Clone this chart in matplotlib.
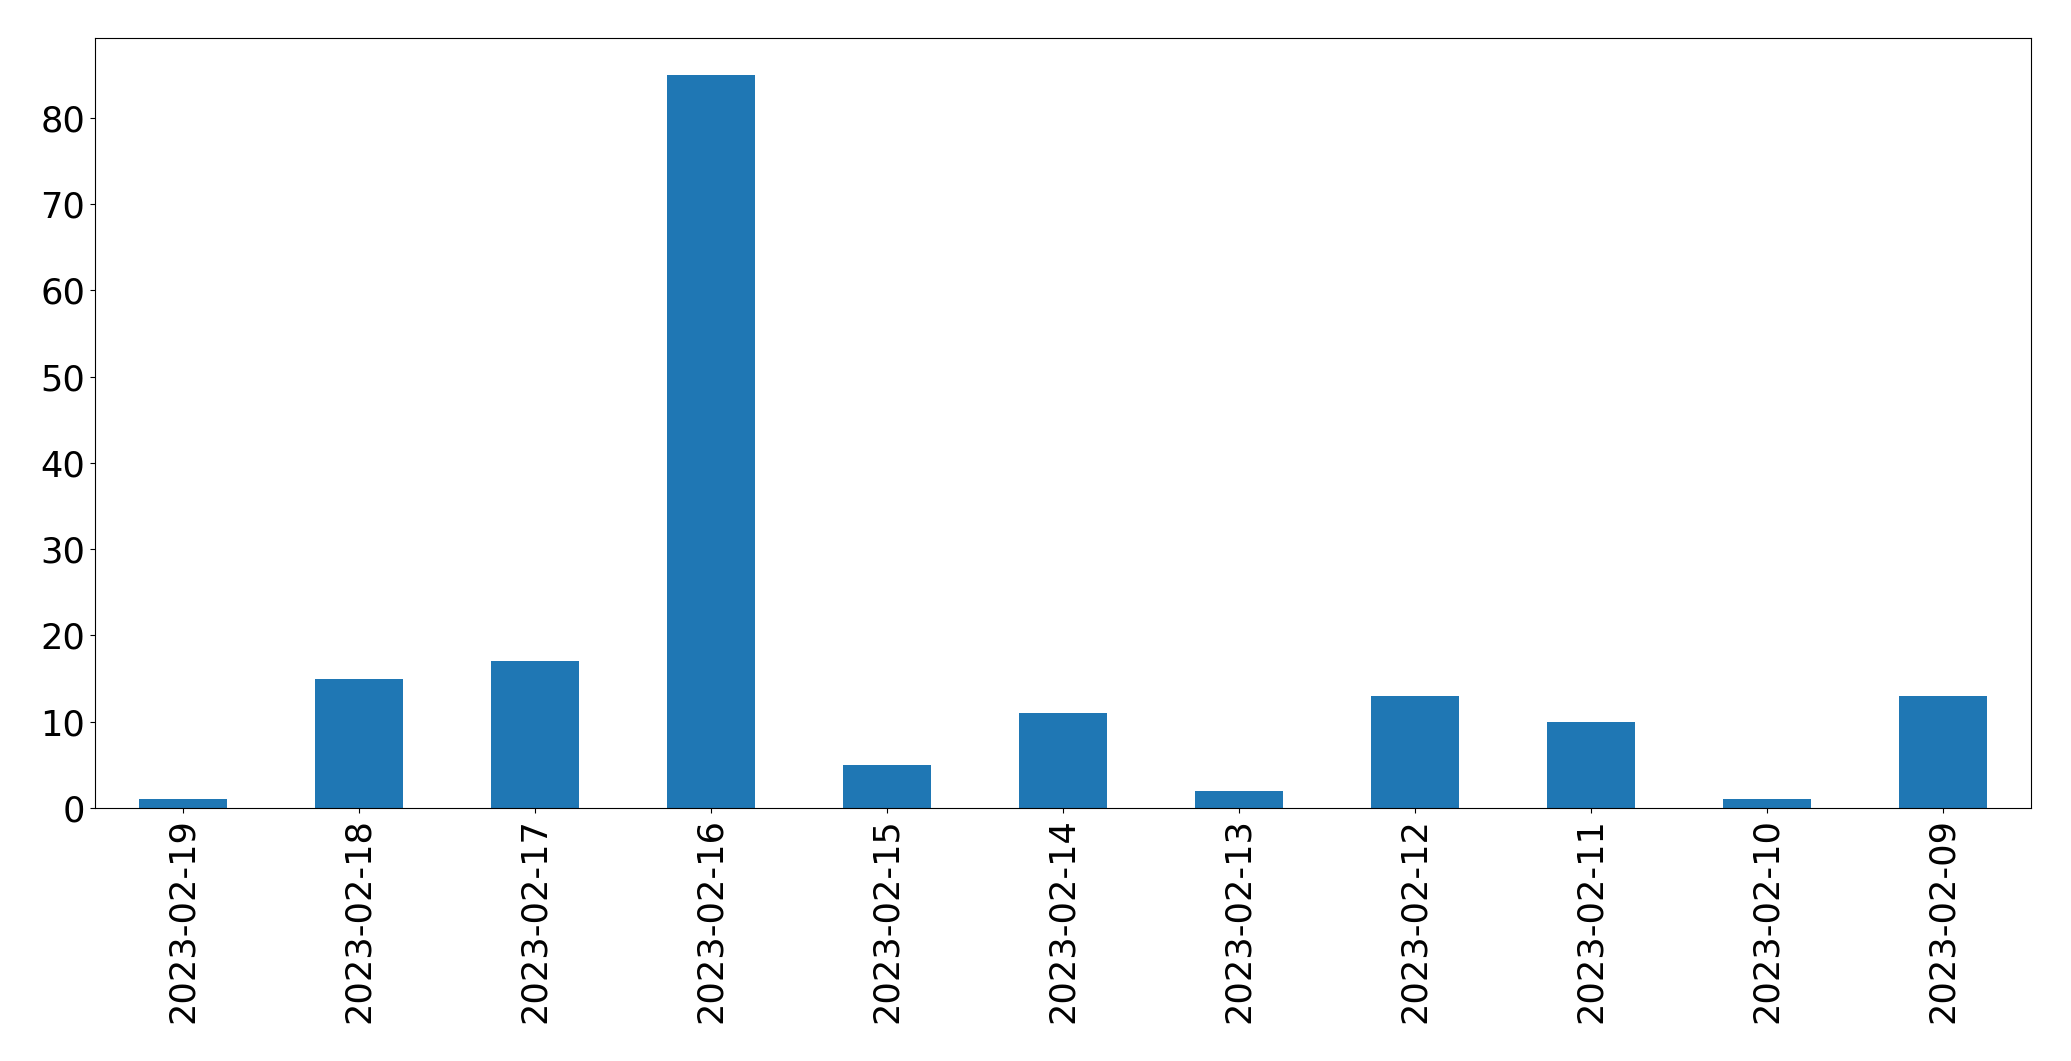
import pandas as pd
import numpy as np
import matplotlib
matplotlib.use('Agg')
import matplotlib.pyplot as plt

# daily counts, newest first
dates = ['2023-02-19', '2023-02-18', '2023-02-17', '2023-02-16', '2023-02-15',
         '2023-02-14', '2023-02-13', '2023-02-12', '2023-02-11', '2023-02-10',
         '2023-02-09']
counts = [1, 15, 17, 85, 5, 11, 2, 13, 10, 1, 13]

s = pd.Series(counts, index=dates)

fig = plt.figure(figsize=(20.71, 10.61), dpi=100)
ax = fig.add_axes([95/2071, 1 - 808/1061, (2031-95)/2071, (809-39)/1061])
s.plot(kind='bar', ax=ax, fontsize=25.3)
ax.set_ylim(0, 89.25)

fig.savefig('out.png', dpi=100)
